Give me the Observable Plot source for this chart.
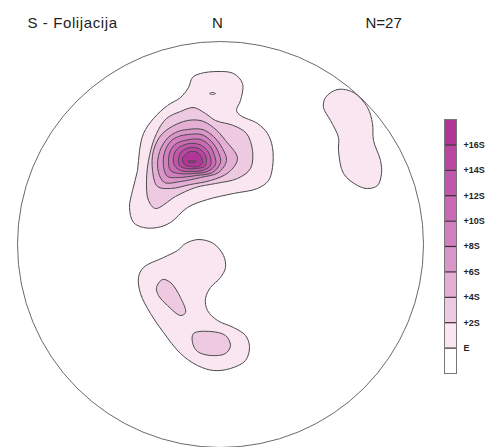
<!DOCTYPE html>
<html>
<head>
<meta charset="utf-8">
<script src="https://cdn.jsdelivr.net/npm/d3@7"></script>
<script src="https://cdn.jsdelivr.net/npm/@observablehq/plot@0.6"></script>
<style>
  html, body { margin: 0; padding: 0; background: #fff; }
  #wrap { position: relative; width: 487px; height: 447px; }
  #wrap > div, #wrap > svg { position: absolute; top: 0; }
</style>
</head>
<body>
<div id="wrap"></div>
<script>
// ---- Data: contour polygons read from the stereonet (x east, y north, net radius ≈ 203) ----
// level: E = 0, +2S = 2, ... (polygon encloses density >= level)
const mainE = [[-20,171],[-3,173],[13,171],[22,161],[20,144],[16,134],[20,129],[37,121],[47,111],[52,97],[52,77],[48,64],[37,56],[13,51],[-13,45],[-33,37],[-50,22],[-63,17],[-77,17],[-87,22],[-91,37],[-88,54],[-83,74],[-81,94],[-77,111],[-67,126],[-53,139],[-40,147],[-32,157],[-28,167]];
const mainHole = [[-11,151],[-8,152],[-5,151],[-8,150]];
const main2S = [[-40,133],[-27,137],[-15,131],[-5,124],[13,119],[26,111],[32,94],[30,76],[17,66],[-5,61],[-25,57],[-45,48],[-65,36],[-72,44],[-74,64],[-71,89],[-64,111],[-54,126]];
const main4S = [[-37,123],[-20,124],[-7,117],[5,104],[17,86],[8,72],[-10,64],[-30,60],[-50,56],[-63,58],[-68,74],[-67,94],[-58,111]];
const main6S = [[-33,115],[-18,115],[-7,108],[2,96],[6,84],[-2,72],[-20,67],[-40,63],[-56,62],[-62,72],[-62,89],[-55,104],[-45,112]];
const main8S = [[-32,110],[-19,110],[-9,103],[-2,92],[0,82],[-8,72],[-24,69],[-42,67],[-53,68],[-57,78],[-56,92],[-50,103],[-42,108]];
const main10S = [[-31,105],[-20,105],[-11,99],[-6,89],[-5,80],[-13,73],[-27,71],[-42,71],[-50,74],[-52,83],[-50,94],[-44,101]];
const main12S = [[-31,101],[-21,100],[-14,95],[-10,87],[-10,79],[-18,74],[-30,73],[-40,74],[-46,79],[-47,88],[-43,96],[-38,99]];
const main14S = [[-30,97],[-22,96],[-16,91],[-14,84],[-16,78],[-24,76],[-34,76],[-41,79],[-42,86],[-39,93]];
const main16S = [[-30,93],[-23,92],[-19,87],[-18,82],[-22,78],[-30,78],[-36,80],[-38,85],[-35,90]];
const mainPeak = [[-33,83],[-29,84],[-24,83],[-29,82]];
const eastE = [[105,147],[117,155],[133,152],[147,137],[152,121],[153,104],[160,84],[161,71],[157,59],[147,56],[137,59],[123,71],[118,94],[118,107],[110,124],[103,137]];
const southE = [[-35,1],[-22,5],[-7,1],[3,-11],[5,-23],[0,-33],[-10,-43],[-15,-54],[-13,-66],[-3,-76],[13,-83],[25,-91],[29,-102],[25,-116],[10,-124],[-7,-126],[-23,-121],[-40,-109],[-57,-88],[-70,-69],[-80,-49],[-82,-33],[-77,-23],[-57,-13],[-43,-6]];
const south2Sa = [[-58,-35],[-50,-38],[-40,-53],[-35,-68],[-40,-71],[-53,-61],[-62,-51],[-64,-43]];
const south2Sb = [[-27,-89],[-10,-87],[5,-91],[10,-101],[5,-109],[-10,-111],[-23,-107],[-28,-98]];

const contours = [
  {id: "mainE", level: 0, pts: mainE},
  {id: "eastE", level: 0, pts: eastE},
  {id: "southE", level: 0, pts: southE},
  {id: "mainHole", level: -1, pts: mainHole},
  {id: "main2S", level: 2, pts: main2S},
  {id: "south2Sa", level: 2, pts: south2Sa},
  {id: "south2Sb", level: 2, pts: south2Sb},
  {id: "main4S", level: 4, pts: main4S},
  {id: "main6S", level: 6, pts: main6S},
  {id: "main8S", level: 8, pts: main8S},
  {id: "main10S", level: 10, pts: main10S},
  {id: "main12S", level: 12, pts: main12S},
  {id: "main14S", level: 14, pts: main14S},
  {id: "main16S", level: 16, pts: main16S},
  {id: "mainPeak", level: 18, pts: mainPeak}
];

// legend
const levelValues = [0, 2, 4, 6, 8, 10, 12, 14, 16];
const levelLabels = ["E", "+2S", "+4S", "+6S", "+8S", "+10S", "+12S", "+14S", "+16S"];
const bandLows = [-2, 0, 2, 4, 6, 8, 10, 12, 14, 16];
const bandColors = ["#ffffff", "#f9e6f1", "#eecae2", "#e4aed5", "#da96c9", "#d17fbe", "#c96ab3", "#c157aa", "#b946a1", "#b03698"];

const titleText = "S - Folijacija";
const northText = "N";
const countText = "N=27";

// ---- Build table ----
const rows = contours.flatMap(c => c.pts.map(([x, y]) => ({id: c.id, level: c.level, x, y})));

const colorScale = {type: "threshold", domain: levelValues, range: bandColors};
const font = "Liberation Sans, Arial, sans-serif";

const main = Plot.plot({
  width: 487, height: 447,
  margin: 0,
  x: {domain: [-220, 267], axis: null},
  y: {domain: [-203, 244], axis: null},
  color: colorScale,
  style: {background: "transparent"},
  marks: [
    Plot.dot([{x: 0, y: 0}], {x: "x", y: "y", r: 203, fill: "white", stroke: "#6a6a6a", strokeWidth: 1}),
    Plot.line(rows, {x: "x", y: "y", z: "id", fill: "level", stroke: "#4a4a4a", strokeWidth: 1, curve: "catmull-rom-closed"}),
    Plot.text([{x: -193, y: 221, t: titleText}], {x: "x", y: "y", text: "t", textAnchor: "start", fontSize: 15, fill: "#222", fontFamily: font}),
    Plot.text([{x: -3, y: 221, t: northText}], {x: "x", y: "y", text: "t", fontSize: 15, fill: "#222", fontFamily: font}),
    Plot.text([{x: 145, y: 221, t: countText}], {x: "x", y: "y", text: "t", textAnchor: "start", fontSize: 15, fill: "#222", fontFamily: font})
  ]
});

const bands = bandLows.map((lo, i) => ({lo, hi: lo + 2}));
const ticks = levelValues.map((v, i) => ({v, label: levelLabels[i]}));

const legend = Plot.plot({
  width: 57, height: 447,
  marginTop: 119, marginBottom: 74, marginLeft: 14, marginRight: 31,
  x: {domain: [0, 1], axis: null},
  y: {domain: [-2, 18], axis: null},
  color: colorScale,
  style: {background: "transparent", overflow: "visible"},
  marks: [
    Plot.rect(bands, {x1: () => 0, x2: () => 1, y1: "lo", y2: "hi", fill: "lo"}),
    Plot.ruleY(ticks, {y: "v", x1: () => 0, x2: () => 1, stroke: "#3a2a35", strokeWidth: 1.2}),
    Plot.frame({stroke: "#777"}),
    Plot.text(ticks, {x: () => 1, y: "v", text: "label", dx: 7, textAnchor: "start", fontSize: 9, fontWeight: "bold", fill: "#222", fontFamily: font})
  ]
});

// widen the title text slightly, as in the reference lettering
d3.select(main).selectAll("text").filter(function() { return this.textContent === titleText; }).style("letter-spacing", "0.6px");

const wrap = document.getElementById("wrap");
main.style.left = "0px";
legend.style.left = "430px";
wrap.appendChild(main);
wrap.appendChild(legend);
</script>
</body>
</html>
